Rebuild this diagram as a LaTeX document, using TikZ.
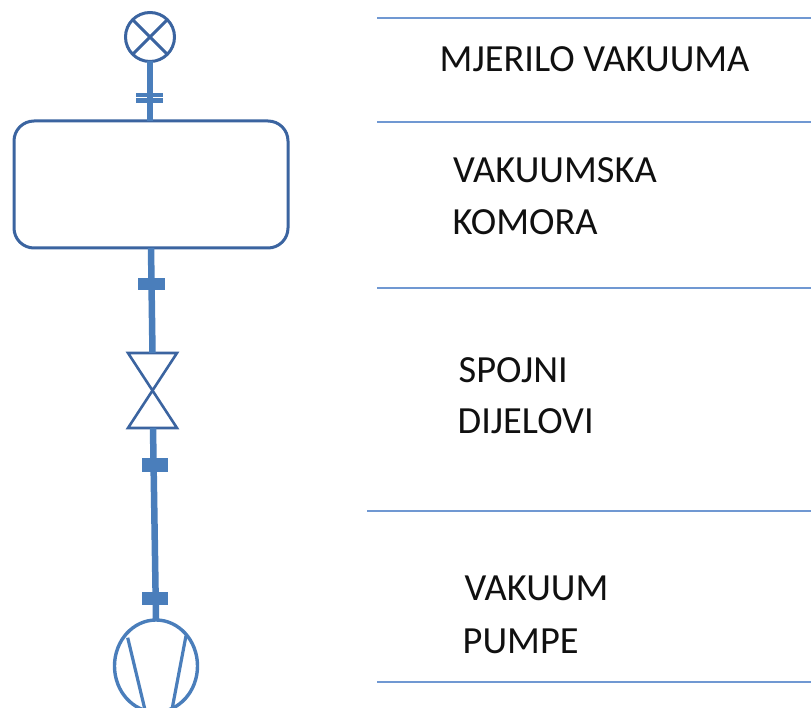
\documentclass[tikz,border=0pt]{standalone}
\usepackage{fontspec}
\setmainfont{Carlito}
\usetikzlibrary{shapes.geometric}
\definecolor{pipeblue}{HTML}{4A7EBB}
\definecolor{darkblue}{HTML}{3B64A0}
\definecolor{ruleblue}{HTML}{7098D2}
\definecolor{txt}{HTML}{101010}
\tikzset{
  pipe/.style={line width=6.5pt, draw=pipeblue},
  flange/.style={fill=pipeblue, draw=none},
  outline/.style={line width=3pt, draw=darkblue},
  rule/.style={line width=1.6pt, draw=ruleblue},
  label/.style={anchor=base west, inner sep=0pt, text=txt, font=\fontsize{38.4}{46}\selectfont}
}
\begin{document}
\begin{tikzpicture}[x=1pt,y=-1pt]
\useasboundingbox (0,0) rectangle (811,708);
% gauge
\node[circle, outline, minimum size=49pt, inner sep=0pt, outer sep=0pt] (gauge) at (150,37) {};
\draw[outline] (gauge.north west) -- (gauge.south east);
\draw[outline] (gauge.north east) -- (gauge.south west);
% chamber
\node[rectangle, outline, rounded corners=20pt, minimum width=274pt, minimum height=127pt, inner sep=0pt, outer sep=0pt] (chamber) at (151,184.5) {};
% valve
\coordinate (valvetop) at (152.5,353);
\coordinate (valvebot) at (153,428);
\draw[line width=2.6pt, draw=darkblue, line join=miter] (128,353) -- (177,353) -- (128,428) -- (177,428) -- cycle;
% pump
\node[ellipse, line width=3.4pt, draw=pipeblue, minimum width=83pt, minimum height=92pt, inner sep=0pt, outer sep=0pt] (pump) at (156,666) {};
\draw[line width=3.2pt, draw=pipeblue] (127.7,637.7) -- (145.5,712);
\draw[line width=3.2pt, draw=pipeblue] (186,635.7) -- (171.5,712);
% pipes
\draw[pipe] (gauge.south) -- (gauge.south |- chamber.north);
\draw[pipe] (chamber.south) -- (valvetop);
\draw[pipe] (valvebot) -- (pump.north);
% flanges
\fill[flange] (136,92.8) rectangle (163,96.8);
\fill[flange] (136,98.4) rectangle (163,102.6);
\fill[flange] (138,278) rectangle (165,290);
\fill[flange] (142,458) rectangle (168,472);
\fill[flange] (142,592) rectangle (168,605);
% rules
\coordinate (r1a) at (377,18);  \coordinate (r1b) at (811,18);
\coordinate (r2a) at (377,122); \coordinate (r2b) at (811,122);
\coordinate (r3a) at (377,288); \coordinate (r3b) at (811,288);
\coordinate (r4a) at (367,511); \coordinate (r4b) at (811,511);
\coordinate (r5a) at (377,682); \coordinate (r5b) at (811,682);
\draw[rule] (r1a) -- (r1b);
\draw[rule] (r2a) -- (r2b);
\draw[rule] (r3a) -- (r3b);
\draw[rule] (r4a) -- (r4b);
\draw[rule] (r5a) -- (r5b);
% labels
\node[label] (mjerilo) at (439.5,72) {MJERILO VAKUUMA};
\node[label] (komora1) at (453,183) {VAKUUMSKA};
\node[label] (komora2) at (452.5,235) {KOMORA};
\node[label] (spojni1) at (458.5,382) {SPOJNI};
\node[label] (spojni2) at (457.5,433) {DIJELOVI};
\node[label] (pumpe1) at (464.5,600) {VAKUUM};
\node[label] (pumpe2) at (462.5,653) {PUMPE};
\end{tikzpicture}
\end{document}
